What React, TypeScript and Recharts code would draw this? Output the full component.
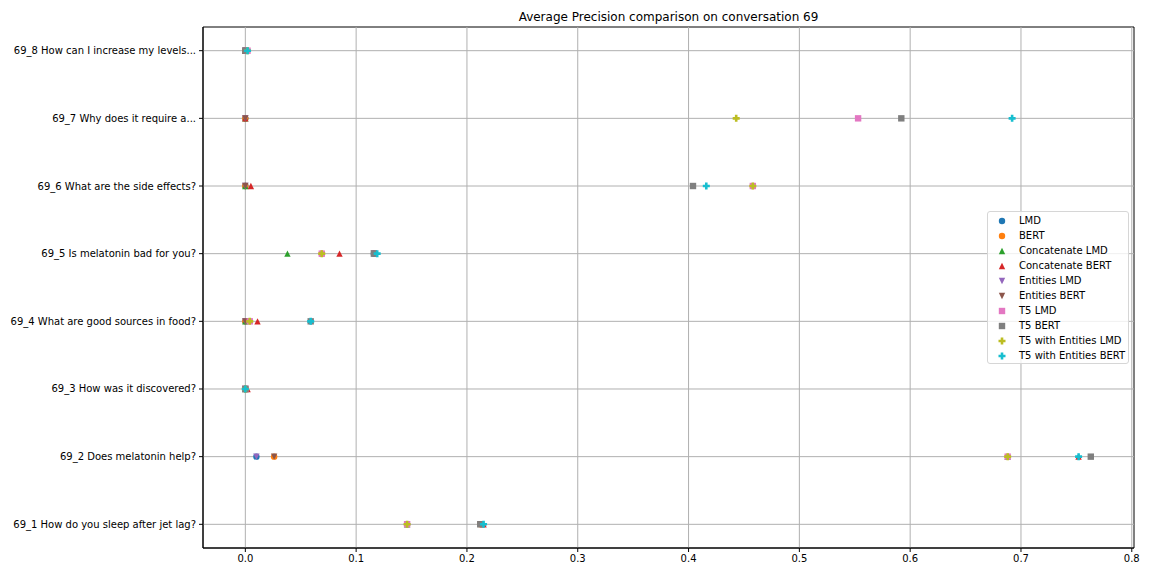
import React from "react";
import {
  ReferenceArea,
  ReferenceLine,
  Scatter,
  ScatterChart,
  XAxis,
  YAxis,
} from "recharts";

// questions, bottom (index 0) to top
const questions = [
  "69_1 How do you sleep after jet lag?",
  "69_2 Does melatonin help?",
  "69_3 How was it discovered?",
  "69_4 What are good sources in food?",
  "69_5 Is melatonin bad for you?",
  "69_6 What are the side effects?",
  "69_7 Why does it require a...",
  "69_8 How can I increase my levels...",
];

const xTicks = [0, 0.1, 0.2, 0.3, 0.4, 0.5, 0.6, 0.7, 0.8];

const lmd = [0.146, 0.01, 0, 0, 0.116, 0, 0, 0];
const bert = [0.212, 0.026, 0, 0, 0.069, 0, 0, 0];
const concatLmd = [0.146, 0.688, 0, 0, 0.038, 0, 0, 0];
const concatBert = [0.215, 0.752, 0.002, 0.011, 0.085, 0.005, 0, 0];
const entitiesLmd = [0.146, 0.01, 0, 0, 0.116, 0, 0, 0];
const entitiesBert = [0.212, 0.026, 0, 0, 0.116, 0, 0, 0];
const t5Lmd = [0.146, 0.688, 0, 0.004, 0.069, 0.458, 0.553, 0.002];
const t5Bert = [0.212, 0.763, 0, 0.059, 0.116, 0.404, 0.592, 0];
const t5EntLmd = [0.146, 0.688, 0, 0.004, 0.069, 0.458, 0.443, 0.002];
const t5EntBert = [0.215, 0.752, 0, 0.059, 0.119, 0.416, 0.692, 0.002];

type MarkerKind = "circle" | "up" | "down" | "square" | "plus";

const series: { name: string; values: number[]; color: string; marker: MarkerKind }[] = [
  { name: "LMD", values: lmd, color: "#1f77b4", marker: "circle" },
  { name: "BERT", values: bert, color: "#ff7f0e", marker: "circle" },
  { name: "Concatenate LMD", values: concatLmd, color: "#2ca02c", marker: "up" },
  { name: "Concatenate BERT", values: concatBert, color: "#d62728", marker: "up" },
  { name: "Entities LMD", values: entitiesLmd, color: "#9467bd", marker: "down" },
  { name: "Entities BERT", values: entitiesBert, color: "#8c564b", marker: "down" },
  { name: "T5 LMD", values: t5Lmd, color: "#e377c2", marker: "square" },
  { name: "T5 BERT", values: t5Bert, color: "#7f7f7f", marker: "square" },
  { name: "T5 with Entities LMD", values: t5EntLmd, color: "#bcbd22", marker: "plus" },
  { name: "T5 with Entities BERT", values: t5EntBert, color: "#17becf", marker: "plus" },
];

const FONT = "'DejaVu Sans', sans-serif";
const X_DOMAIN: [number, number] = [-0.0382, 0.802];
const Y_DOMAIN: [number, number] = [-0.35, 7.35];

function markerPath(kind: MarkerKind, cx: number, cy: number, color: string) {
  const r = 3.2;
  switch (kind) {
    case "circle":
      return <circle cx={cx} cy={cy} r={r} fill={color} />;
    case "up":
      return (
        <polygon
          points={`${cx},${cy - r} ${cx - r},${cy + r} ${cx + r},${cy + r}`}
          fill={color}
        />
      );
    case "down":
      return (
        <polygon
          points={`${cx},${cy + r} ${cx - r},${cy - r} ${cx + r},${cy - r}`}
          fill={color}
        />
      );
    case "square":
      return <rect x={cx - r} y={cy - r} width={2 * r} height={2 * r} fill={color} />;
    case "plus": {
      const a = r + 0.3;
      const w = 1.3;
      return (
        <path
          d={`M${cx - w},${cy - a}H${cx + w}V${cy - w}H${cx + a}V${cy + w}H${cx + w}V${cy + a}H${cx - w}V${cy + w}H${cx - a}V${cy - w}H${cx - w}Z`}
          fill={color}
        />
      );
    }
  }
}

// plain svg text so long questions stay on one line
function QuestionTick(props: any) {
  const { x, y, payload } = props;
  return (
    <text
      x={x}
      y={y}
      dy="0.35em"
      textAnchor="end"
      fill="#000"
      fontSize={10}
      fontFamily={FONT}
    >
      {questions[payload.value] ?? ""}
    </text>
  );
}

function LegendBox() {
  return (
    <div
      style={{
        position: "absolute",
        left: 987,
        top: 211,
        width: 142,
        height: 153,
        boxSizing: "border-box",
        background: "rgba(255,255,255,0.8)",
        border: "1px solid #d6d6d6",
        borderRadius: 3,
        fontFamily: FONT,
        fontSize: 10,
        color: "#000",
      }}
    >
      {series.map((s, i) => (
        <div
          key={s.name}
          style={{
            position: "absolute",
            left: 0,
            top: 0.5 + i * 15.1,
            height: 15,
            lineHeight: "15px",
            whiteSpace: "nowrap",
          }}
        >
          <svg width={20} height={15} style={{ position: "absolute", left: 4, top: 0 }}>
            {markerPath(s.marker, 10, 8, s.color)}
          </svg>
          <span style={{ position: "absolute", left: 31, top: 0 }}>{s.name}</span>
        </div>
      ))}
    </div>
  );
}

export default function App() {
  return (
    <div
      style={{
        position: "absolute",
        left: 0,
        top: 0,
        width: 1152,
        height: 576,
        background: "#fff",
      }}
    >
      <div
        style={{
          position: "absolute",
          left: 203,
          width: 931,
          top: 9,
          lineHeight: "16px",
          textAlign: "center",
          fontFamily: FONT,
          fontSize: 12,
          color: "#000",
        }}
      >
        Average Precision comparison on conversation 69
      </div>
      <ScatterChart
        width={1152}
        height={576}
        margin={{ top: 27, right: 18, bottom: 0, left: 0 }}
      >
        <XAxis
          type="number"
          dataKey="x"
          domain={X_DOMAIN}
          ticks={xTicks}
          allowDataOverflow
          height={28}
          tickFormatter={(v: number) => v.toFixed(1)}
          tick={{ fill: "#000", fontSize: 10, fontFamily: FONT }}
          stroke="#000"
          tickSize={4}
          tickMargin={3}
          interval={0}
        />
        <YAxis
          type="number"
          dataKey="y"
          domain={Y_DOMAIN}
          ticks={questions.map((_, i) => i)}
          allowDataOverflow
          width={203}
          tick={<QuestionTick />}
          stroke="#000"
          tickSize={4}
          tickMargin={3}
          interval={0}
        />
        {series.map((s) => (
          <Scatter
            key={s.name}
            name={s.name}
            data={s.values.map((v, i) => ({ x: v, y: i }))}
            fill={s.color}
            isAnimationActive={false}
            shape={(p: any) => markerPath(s.marker, p.cx, p.cy, s.color)}
          />
        ))}
        {xTicks.map((t) => (
          <ReferenceLine key={`gx${t}`} x={t} stroke="#b0b0b0" strokeWidth={1} />
        ))}
        {questions.map((_, i) => (
          <ReferenceLine key={`gy${i}`} y={i} stroke="#b0b0b0" strokeWidth={1} />
        ))}
        <ReferenceArea
          x1={X_DOMAIN[0]}
          x2={X_DOMAIN[1]}
          y1={Y_DOMAIN[0]}
          y2={Y_DOMAIN[1]}
          fill="none"
          fillOpacity={0}
          stroke="#000"
          strokeWidth={1}
        />
      </ScatterChart>
      <LegendBox />
    </div>
  );
}
